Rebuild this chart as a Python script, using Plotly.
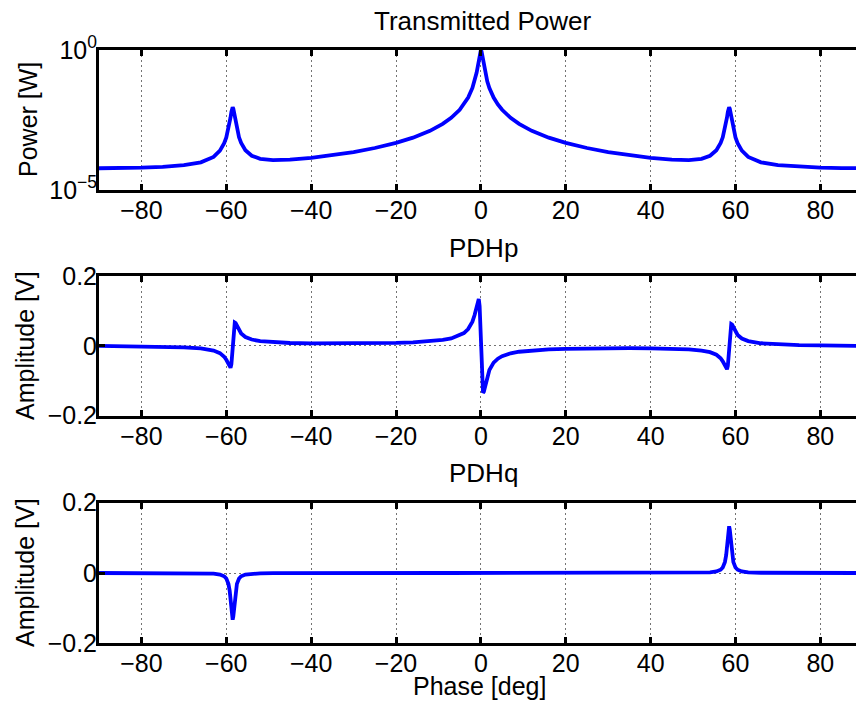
import plotly.graph_objects as go
from plotly.subplots import make_subplots

# ---------------- data ----------------
phase = [-90, -85, -80, -75, -70, -66, -63, -61.5, -60.5, -60, -59.5, -59.2, -59.0, -58.8, -58.65,
         -58.5, -58.35, -58.2, -58.0, -57.8, -57.5, -57.0, -56.5, -55.5, -54, -52, -49, -45, -40, -35,
         -30, -25, -20, -16, -12, -9, -7, -5, -4, -3, -2, -1.5, -1, -0.7, -0.5, -0.3, -0.15,
         0,
         0.15, 0.3, 0.5, 0.7, 1, 1.5, 2, 3, 4, 5, 7, 9, 12, 16, 20, 25, 30,
         35, 40, 45, 49, 52, 54, 55.5, 56.5, 57.0, 57.5, 57.8, 58.0, 58.2, 58.35, 58.5,
         58.65, 58.8, 59.0, 59.2, 59.5, 60, 60.5, 61.5, 63, 66, 70, 75, 80, 85, 90]

power_w = [5.99e-5, 6.06e-5, 6.28e-5, 6.75e-5, 7.72e-5, 9.70e-5, 1.52e-4, 2.54e-4, 4.71e-4, 7.57e-4,
           1.48e-3, 2.54e-3, 3.90e-3, 6.13e-3, 8.10e-3, 9.08e-3, 8.10e-3, 6.13e-3, 3.90e-3, 2.54e-3,
           1.48e-3, 7.62e-4, 4.78e-4, 2.64e-4, 1.67e-4, 1.30e-4, 1.17e-4, 1.22e-4, 1.41e-4, 1.74e-4,
           2.27e-4, 3.16e-4, 4.81e-4, 7.39e-4, 1.30e-3, 2.29e-3, 3.77e-3, 7.34e-3, 1.142e-2, 2.01e-2,
           4.41e-2, 7.58e-2, 0.1557, 0.2735, 0.4245, 0.672, 0.891,
           1.0,
           0.891, 0.672, 0.4245, 0.2735, 0.1557, 7.58e-2, 4.41e-2, 2.01e-2, 1.142e-2, 7.34e-3,
           3.77e-3, 2.29e-3, 1.30e-3, 7.39e-4, 4.81e-4, 3.16e-4, 2.27e-4, 1.74e-4, 1.41e-4, 1.22e-4,
           1.17e-4, 1.30e-4, 1.67e-4, 2.64e-4, 4.78e-4, 7.62e-4, 1.48e-3, 2.54e-3, 3.90e-3, 6.13e-3,
           8.10e-3, 9.08e-3, 8.10e-3, 6.13e-3, 3.90e-3, 2.54e-3, 1.48e-3, 7.57e-4, 4.71e-4, 2.54e-4,
           1.52e-4, 9.70e-5, 7.72e-5, 6.75e-5, 6.28e-5, 6.06e-5, 5.99e-5]

pdhp_v = [0.0, -0.0006, -0.0013, -0.0023, -0.0042, -0.0074, -0.0136, -0.0209, -0.0311, -0.0399,
          -0.0527, -0.0610, -0.0625, -0.0525, -0.0308, 0.0022, 0.0352, 0.0569, 0.0669, 0.0654,
          0.0572, 0.0443, 0.0355, 0.0254, 0.0181, 0.0134, 0.0101, 0.0081, 0.0070, 0.0067,
          0.0068, 0.0073, 0.0084, 0.0101, 0.0129, 0.0169, 0.0214, 0.0297, 0.0367, 0.0481,
          0.0692, 0.0875, 0.1142, 0.1312, 0.1344, 0.1135, 0.0685,
          0.0,
          -0.0685, -0.1135, -0.1344, -0.1312, -0.1142, -0.0875, -0.0692, -0.0481, -0.0367, -0.0297,
          -0.0214, -0.0169, -0.0129, -0.0101, -0.0084, -0.0073, -0.0068, -0.0067, -0.0070, -0.0081,
          -0.0101, -0.0134, -0.0181, -0.0254, -0.0355, -0.0443, -0.0572, -0.0654, -0.0669, -0.0569,
          -0.0352, -0.0022, 0.0308, 0.0525, 0.0625, 0.0610, 0.0527, 0.0399, 0.0311, 0.0209,
          0.0136, 0.0074, 0.0042, 0.0023, 0.0013, 0.0006, 0.0]

pdhq_v = [0.0, 0.0, -0.0001, -0.0001, -0.0003, -0.0007, -0.0020, -0.0043, -0.0094, -0.0158,
          -0.0309, -0.0508, -0.0728, -0.1025, -0.1238, -0.133, -0.1238, -0.1025, -0.0728, -0.0508,
          -0.0309, -0.0158, -0.0094, -0.0043, -0.0020, -0.0009, -0.0005, -0.0002, -0.0001, 0.0,
          0.0, 0.0, 0.0, 0.0, 0.0, 0.0, 0.0, 0.0, 0.0, 0.0,
          0.0, 0.0, 0.0, 0.0, 0.0, 0.0, 0.0,
          0.0,
          0.0, 0.0, 0.0, 0.0, 0.0, 0.0, 0.0, 0.0, 0.0, 0.0,
          0.0, 0.0, 0.0, 0.0, 0.0, 0.0, 0.0, 0.0, 0.0001, 0.0002,
          0.0005, 0.0009, 0.0020, 0.0043, 0.0094, 0.0158, 0.0309, 0.0508, 0.0728, 0.1025,
          0.1238, 0.133, 0.1238, 0.1025, 0.0728, 0.0508, 0.0309, 0.0158, 0.0094, 0.0043,
          0.0020, 0.0007, 0.0003, 0.0001, 0.0001, 0.0, 0.0]

x_ticks = [-80, -60, -40, -20, 0, 20, 40, 60, 80]
x_tick_text = ["\u221280", "\u221260", "\u221240", "\u221220", "0", "20", "40", "60", "80"]
power_ticks = [1e-5, 1.0]
power_tick_text = ["10<sup>\u22125</sup>", "10<sup>0</sup>"]
amp_ticks = [-0.2, 0.0, 0.2]
amp_tick_text = ["\u22120.2", "0", "0.2"]

titles = ["Transmitted Power", "PDHp", "PDHq"]
y_titles = ["Power [W]", "Amplitude [V]", "Amplitude [V]"]
x_title = "Phase [deg]"

# ---------------- figure ----------------
W, H = 856, 701
ML = 99
FONT = "Liberation Sans, Arial, Helvetica, sans-serif"
FS = 25

fig = make_subplots(rows=3, cols=1)
series = [power_w, pdhp_v, pdhq_v]
for i, ys in enumerate(series):
    fig.add_trace(go.Scatter(x=phase, y=ys, mode="lines",
                             line=dict(color="#0000FF", width=3.8),
                             showlegend=False, hoverinfo="skip"), row=i + 1, col=1)

# panel vertical extents in pixels (top, bottom)
panels = [(50, 190), (276, 415.7), (502.7, 643.3)]

common_x = dict(range=[-90, 88.4], tickmode="array", tickvals=x_ticks, ticktext=x_tick_text,
                showline=True, linewidth=3, linecolor="black", mirror="ticks",
                ticks="inside", ticklen=6, tickwidth=3, tickcolor="black",
                showgrid=True, gridcolor="rgba(0,0,0,0.55)", gridwidth=1, griddash="2px,3px",
                zeroline=False, tickfont=dict(family=FONT, size=FS, color="black"),
                ticklabelstandoff=-4, domain=[0, 1], automargin=False)
common_y = dict(showline=True, linewidth=3, linecolor="black", mirror=False,
                ticks="inside", ticklen=6, tickwidth=3, tickcolor="black",
                zeroline=False, tickfont=dict(family=FONT, size=FS, color="black"),
                ticklabelstandoff=-6, automargin=False)

for i in range(3):
    top, bot = panels[i]
    dom = [1 - bot / H, 1 - top / H]
    xa = "xaxis" if i == 0 else f"xaxis{i + 1}"
    ya = "yaxis" if i == 0 else f"yaxis{i + 1}"
    fig.layout[xa].update(**common_x)
    fig.layout[ya].update(**common_y)
    fig.layout[ya].domain = dom
    if i == 0:
        fig.layout[ya].update(type="log", range=[-5, 0], tickmode="array",
                              tickvals=power_ticks, ticktext=power_tick_text, showgrid=False)
    else:
        fig.layout[ya].update(range=[-0.2, 0.2], tickmode="array", tickvals=amp_ticks,
                              ticktext=amp_tick_text, showgrid=True,
                              gridcolor="rgba(0,0,0,0.55)", gridwidth=1, griddash="2px,3px")


def px_x(px):
    return (px - ML) / (W - ML)


def px_y(py):
    return 1 - py / H


ann = []
title_y = [21, 248, 473]
for i in range(3):
    ann.append(dict(text=titles[i], x=px_x(483), y=px_y(title_y[i]), xref="paper", yref="paper",
                    xanchor="center", yanchor="middle", showarrow=False,
                    font=dict(family=FONT, size=26, color="black")))
ytitle_pos = [(28, 120), (25, 346), (25, 573)]
for i in range(3):
    ann.append(dict(text=y_titles[i], x=px_x(ytitle_pos[i][0]), y=px_y(ytitle_pos[i][1]),
                    xref="paper", yref="paper", xanchor="center", yanchor="middle",
                    textangle=-90, showarrow=False,
                    font=dict(family=FONT, size=FS, color="black")))
ann.append(dict(text=x_title, x=px_x(480), y=px_y(686), xref="paper", yref="paper",
                xanchor="center", yanchor="middle", showarrow=False,
                font=dict(family=FONT, size=FS, color="black")))

fig.update_layout(width=W, height=H,
                  margin=dict(l=ML, r=0, t=0, b=0, pad=0, autoexpand=False),
                  paper_bgcolor="white", plot_bgcolor="white",
                  annotations=ann, showlegend=False)

fig.write_html("out.html", config={"displayModeBar": False},
               post_script="document.body.style.margin='0px';document.body.style.overflow='hidden';")
